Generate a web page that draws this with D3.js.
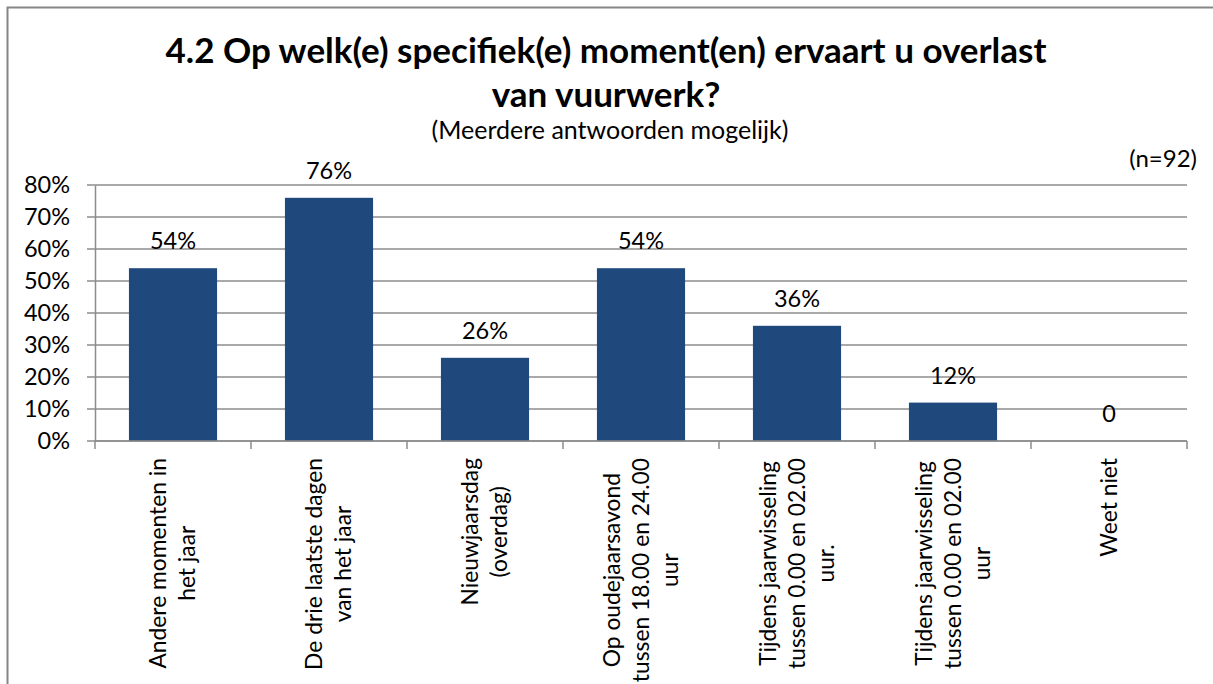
<!DOCTYPE html>
<html>
<head>
<meta charset="utf-8">
<script src="https://cdn.jsdelivr.net/npm/d3@7"></script>
<style>
  body { margin: 0; background: #fff; }
  svg { display: block; font-family: Lato, "Open Sans", sans-serif; }
</style>
</head>
<body>
<script>
'use strict';

// chart data
const categories = [
  ["Andere momenten in", "het jaar"],
  ["De drie laatste dagen", "van het jaar"],
  ["Nieuwjaarsdag", "(overdag)"],
  ["Op oudejaarsavond", "tussen 18.00 en 24.00", "uur"],
  ["Tijdens jaarwisseling", "tussen 0.00 en 02.00", "uur."],
  ["Tijdens jaarwisseling", "tussen 0.00 en 02.00", "uur"],
  ["Weet niet"]
];
const values = [54, 76, 26, 54, 36, 12, 0];
const valueLabels = ["54%", "76%", "26%", "54%", "36%", "12%", "0"];
const yTicks = [0, 10, 20, 30, 40, 50, 60, 70, 80];

const titleLines = ["4.2 Op welk(e) specifiek(e) moment(en) ervaart u overlast", "van vuurwerk?"];
const subtitle = "(Meerdere antwoorden mogelijk)";
const sampleNote = "(n=92)";

(function() {
  const width = 1213, height = 684;
  const plot = {left: 95, right: 1187, top: 185, bottom: 441};
  const barColor = "#1F497D";
  const gridColor = "#8c8c8c";

  const svg = d3.select("body").append("svg")
    .attr("width", width)
    .attr("height", height);

  // outer chart frame (runs off the right and bottom edge)
  svg.append("rect")
    .attr("x", 7.5).attr("y", 7.5)
    .attr("width", 1240).attr("height", 720)
    .attr("fill", "#fff")
    .attr("stroke", "#868686")
    .attr("stroke-width", 2);

  // titles
  svg.append("text")
    .attr("x", 606).attr("y", 63)
    .attr("text-anchor", "middle")
    .style("font-size", "35px")
    .style("font-weight", "bold")
    .selectAll("tspan")
    .data(titleLines)
    .enter()
      .append("tspan")
      .attr("x", 606)
      .attr("dy", (d, i) => i === 0 ? 0 : 44)
      .text(d => d);

  svg.append("text")
    .attr("x", 610).attr("y", 139)
    .attr("text-anchor", "middle")
    .style("font-size", "25px")
    .text(subtitle);

  svg.append("text")
    .attr("x", 1197).attr("y", 167)
    .attr("text-anchor", "end")
    .style("font-size", "24px")
    .text(sampleNote);

  // scales
  const x = d3.scaleBand()
    .domain(d3.range(categories.length))
    .range([plot.left, plot.right])
    .padding(0);

  const y = d3.scaleLinear()
    .domain([0, 80])
    .range([plot.bottom, plot.top]);

  const barWidth = x.bandwidth() * 0.565;

  // gridlines
  svg.append("g")
    .selectAll("line")
    .data(yTicks)
    .enter()
      .append("line")
      .attr("x1", plot.left - 8)
      .attr("x2", plot.right)
      .attr("y1", d => y(d))
      .attr("y2", d => y(d))
      .attr("stroke", gridColor)
      .attr("stroke-width", 1.5);

  // y axis
  const yAxis = d3.axisLeft(y)
    .tickValues(yTicks)
    .tickSize(0)
    .tickPadding(25)
    .tickFormat(d => d + "%");
  const yG = svg.append("g")
    .attr("transform", "translate(" + plot.left + ",0)")
    .call(yAxis);
  yG.select(".domain").attr("stroke", gridColor).attr("stroke-width", 1.5);
  yG.selectAll("text")
    .style("font-size", "23.5px")
    .style("font-family", "Lato, sans-serif")
    .attr("fill", "#000");

  // x axis ticks at category boundaries
  const boundaries = d3.range(categories.length + 1).map(i => plot.left + i * x.step());
  svg.append("g")
    .selectAll("line")
    .data(boundaries)
    .enter()
      .append("line")
      .attr("x1", d => d).attr("x2", d => d)
      .attr("y1", plot.bottom).attr("y2", plot.bottom + 8)
      .attr("stroke", gridColor)
      .attr("stroke-width", 1.5);

  // bars
  svg.append("g")
    .selectAll("rect")
    .data(values)
    .enter()
      .append("rect")
      .attr("x", (d, i) => x(i) + (x.bandwidth() - barWidth) / 2)
      .attr("y", d => y(d))
      .attr("width", barWidth)
      .attr("height", d => plot.bottom - y(d))
      .attr("fill", barColor);

  // baseline on top of bars
  svg.append("line")
    .attr("x1", plot.left).attr("x2", plot.right)
    .attr("y1", plot.bottom).attr("y2", plot.bottom)
    .attr("stroke", gridColor)
    .attr("stroke-width", 1.5);

  // value labels
  svg.append("g")
    .selectAll("text")
    .data(values)
    .enter()
      .append("text")
      .attr("x", (d, i) => x(i) + x.bandwidth() / 2)
      .attr("y", d => y(d) - 19)
      .attr("text-anchor", "middle")
      .style("font-size", "23.5px")
      .text((d, i) => valueLabels[i]);

  // category labels, rotated; block top-aligned, each line centred
  const lineGap = 29;
  const labelTop = plot.bottom + 17;
  categories.forEach((lines, i) => {
    const cx = x(i) + x.bandwidth() / 2;
    const t = svg.append("text")
      .attr("text-anchor", "middle")
      .style("font-size", "22.8px");
    const spans = lines.map((line, j) =>
      t.append("tspan")
        .attr("x", 0)
        .attr("y", (j - (lines.length - 1) / 2) * lineGap)
        .attr("dy", "0.35em")
        .text(line));
    const longest = d3.max(spans, s => s.node().getComputedTextLength());
    t.attr("transform", "translate(" + cx + "," + (labelTop + longest / 2) + ")rotate(-90)");
  });
})();
</script>
</body>
</html>
